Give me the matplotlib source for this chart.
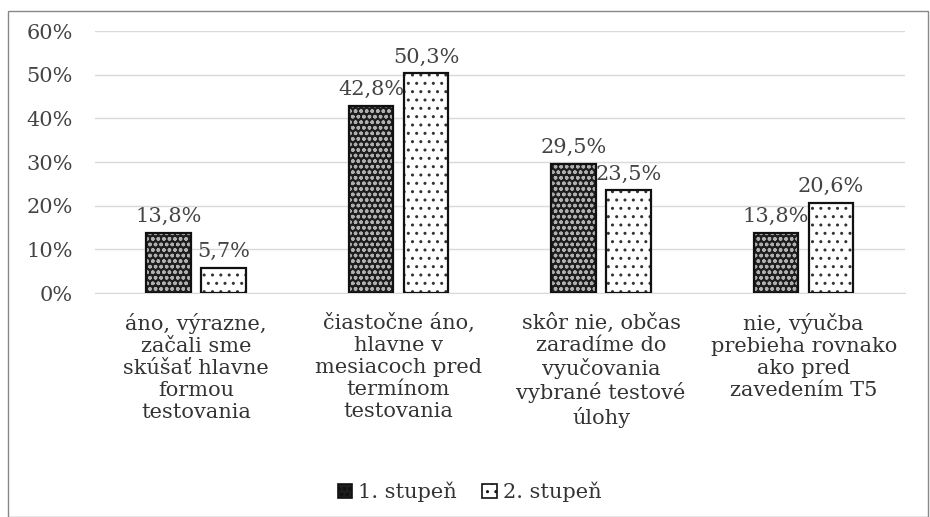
import numpy as np
import matplotlib.pyplot as plt
from matplotlib.patches import Rectangle

# data
kategorie = ["áno, výrazne,\nzačali sme\nskúšať hlavne\nformou\ntestovania",
             "čiastočne áno,\nhlavne v\nmesiacoch pred\ntermínom\ntestovania",
             "skôr nie, občas\nzaradíme do\nvyučovania\nvybrané testové\núlohy",
             "nie, výučba\nprebieha rovnako\nako pred\nzavedením T5"]
stupen1 = [13.8, 42.8, 29.5, 13.8]
stupen2 = [5.7, 50.3, 23.5, 20.6]
serie = ["1. stupeň", "2. stupeň"]

plt.rcParams['font.family'] = ['DejaVu Serif']
plt.rcParams['hatch.linewidth'] = 1.0
fs = 15

fig = plt.figure(figsize=(9.3, 5.17), dpi=100)
ax = fig.add_axes([0.102, 0.433, 0.871, 0.507])

x = np.arange(len(kategorie))
w = 0.22
off = 0.136

b1 = ax.bar(x - off, stupen1, w, facecolor='#1e1e1e', edgecolor='#b0b0b0',
            hatch='ooo', linewidth=0, label=serie[0], zorder=3)
b2 = ax.bar(x + off, stupen2, w, facecolor='white', edgecolor='#333333',
            hatch='..', linewidth=0, label=serie[1], zorder=3)
# black outlines
for b in list(b1) + list(b2):
    ax.add_patch(Rectangle(b.get_xy(), b.get_width(), b.get_height(),
                           fill=False, edgecolor='#111111', linewidth=1.6, zorder=4))

for bars, vals in [(b1, stupen1), (b2, stupen2)]:
    for b, v in zip(bars, vals):
        ax.annotate(f"{v:.1f}%".replace('.', ','),
                    (b.get_x() + b.get_width() / 2, v),
                    xytext=(0, 5), textcoords='offset points',
                    ha='center', va='bottom', fontsize=fs, color='#444444', zorder=5)

ax.set_ylim(0, 60)
ax.set_xlim(-0.5, 3.5)
ax.set_yticks(np.arange(0, 61, 10))
ax.set_yticklabels([f"{t}%" for t in range(0, 61, 10)], fontsize=fs, color='#444444')
ax.set_xticks(x)
ax.set_xticklabels(kategorie, fontsize=fs, color='#333333', linespacing=1.2)
ax.tick_params(axis='x', length=0, pad=14)
ax.tick_params(axis='y', length=0, pad=16)
ax.grid(axis='y', color='#d9d9d9', linewidth=1, zorder=0)
for s in ['top', 'right', 'left']:
    ax.spines[s].set_visible(False)
ax.spines['bottom'].set_color('#d9d9d9')

leg = fig.legend(handles=[b1, b2], labels=serie, loc='center', bbox_to_anchor=(0.505, 0.048),
                 ncol=2, frameon=False, fontsize=fs, handlelength=0.7, handleheight=0.7,
                 handletextpad=0.3, columnspacing=1.2, labelcolor='#333333')
for h in leg.legend_handles:
    h.set_linewidth(1.2)
    h.set_edgecolor('#111111')

fig.add_artist(Rectangle((0.009, 0.0), 0.989, 0.978, transform=fig.transFigure,
                         fill=False, edgecolor='#888888', linewidth=1))

fig.savefig("out.png", dpi=100, facecolor='white')
